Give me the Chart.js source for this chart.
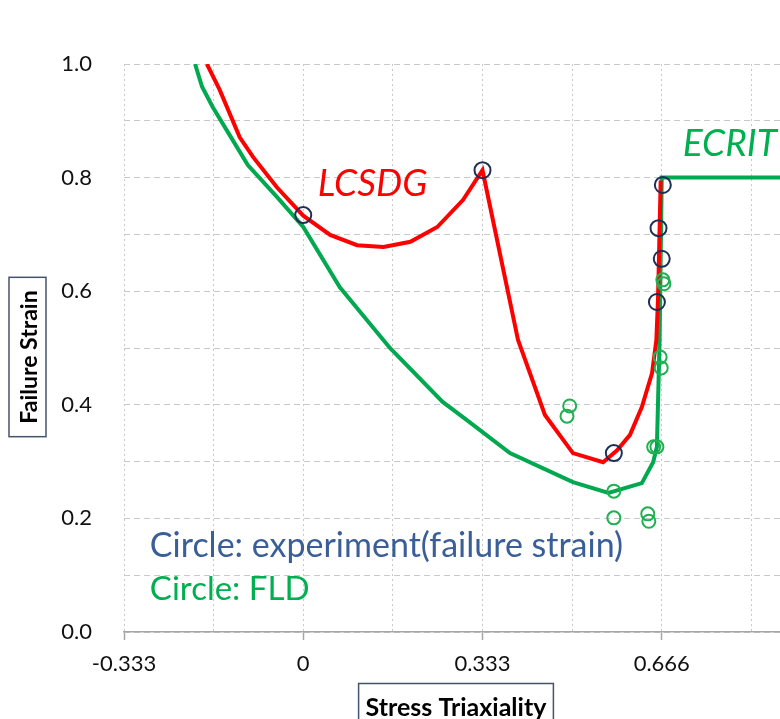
<!DOCTYPE html>
<html>
<head>
<meta charset="utf-8">
<script src="https://cdn.jsdelivr.net/npm/chart.js@4/dist/chart.umd.min.js"></script>
<style>
  html, body { margin: 0; padding: 0; background: #fff; overflow: hidden; }
  #wrap { width: 780px; height: 719px; overflow: hidden; }
  canvas { display: block; }
</style>
</head>
<body>
<div id="wrap"><canvas id="graphCanvas" width="860" height="719"></canvas></div>
<script>
// LCSDG curve (red)
var lcsdgX = [-0.179, -0.155, -0.118, -0.093, -0.049, 0.0, 0.050, 0.100, 0.149, 0.199, 0.249, 0.297, 0.333,
              0.399, 0.449, 0.501, 0.557, 0.583, 0.607, 0.629, 0.648, 0.656, 0.659, 0.661, 0.664];
var lcsdgY = [1.0, 0.954, 0.871, 0.836, 0.783, 0.733, 0.699, 0.681, 0.678, 0.687, 0.713, 0.761, 0.813,
              0.514, 0.382, 0.315, 0.299, 0.320, 0.347, 0.396, 0.456, 0.514, 0.585, 0.667, 0.795];

// ECRIT curve (green)
var ecritX = [-0.201, -0.188, -0.168, -0.131, -0.103, -0.049, 0.0, 0.068, 0.161, 0.259, 0.304, 0.384,
              0.501, 0.567, 0.629, 0.650, 0.657, 0.662, 0.666, 0.999];
var ecritY = [1.0, 0.960, 0.924, 0.866, 0.822, 0.766, 0.713, 0.607, 0.500, 0.405, 0.373, 0.315,
              0.264, 0.245, 0.262, 0.299, 0.326, 0.514, 0.800, 0.800];

// experiment (failure strain) circles
var expX = [0.0, 0.333, 0.668, 0.660, 0.666, 0.657, 0.577];
var expY = [0.734, 0.813, 0.787, 0.711, 0.657, 0.581, 0.315];

// FLD circles
var fldX = [0.495, 0.490, 0.668, 0.670, 0.663, 0.665, 0.651, 0.657, 0.577, 0.577, 0.640, 0.642];
var fldY = [0.398, 0.380, 0.620, 0.613, 0.484, 0.465, 0.326, 0.326, 0.248, 0.201, 0.208, 0.195];

// axes
var xGridValues = [-0.333, -0.1665, 0, 0.1665, 0.333, 0.4995, 0.666, 0.8325, 0.999];
var xTickValues = [-0.333, 0, 0.333, 0.666];
var xTickLabels = ['-0.333', '0', '0.333', '0.666'];
var yTickValues = [0, 0.2, 0.4, 0.6, 0.8, 1.0];
var yTickLabels = ['0.0', '0.2', '0.4', '0.6', '0.8', '1.0'];

// text notes on the plot (data coords)
var noteTexts = ['LCSDG', 'ECRIT', 'Circle: experiment(failure strain)', 'Circle: FLD'];
var noteX = [0.027, 0.705, -0.285, -0.285];
var noteY = [0.768, 0.838, 0.132, 0.056];
var noteStyle = [
    {font: 'italic 37px Lato', color: '#ff0000'},
    {font: 'italic 37px Lato', color: '#00b050'},
    {font: '34px Lato', color: '#3a5f98'},
    {font: '33px Lato', color: '#00b050'}
];

var xTitle = 'Stress Triaxiality';
var yTitle = 'Failure Strain';

function toPoints(xs, ys) {
    var pts = [];
    for (var i in xs) {
        pts.push({x: xs[i], y: ys[i]});
    }
    return pts;
}

function labelFor(value, values, labels) {
    for (var i = 0; i < values.length; i++) {
        if (Math.abs(values[i] - value) < 1e-6) {
            return labels[i];
        }
    }
    return '';
}

var notesPlugin = {
    id: 'notes',
    afterDraw: function(chart) {
        var ctx = chart.ctx;
        var xs = chart.scales.x, ys = chart.scales.y;
        var area = chart.chartArea;
        ctx.save();
        ctx.textBaseline = 'alphabetic';
        ctx.textAlign = 'left';
        for (var i = 0; i < noteTexts.length; i++) {
            ctx.font = noteStyle[i].font;
            ctx.fillStyle = noteStyle[i].color;
            ctx.fillText(noteTexts[i], xs.getPixelForValue(noteX[i]), ys.getPixelForValue(noteY[i]));
        }

        // boxed axis titles
        ctx.fillStyle = '#000';
        ctx.strokeStyle = '#44546a';
        ctx.lineWidth = 1.5;
        ctx.textAlign = 'center';

        ctx.font = 'bold 25px Lato';
        var w = ctx.measureText(xTitle).width;
        var cx = area.left + 332;
        ctx.fillText(xTitle, cx, area.bottom + 84);
        ctx.strokeRect(cx - w / 2 - 7, area.bottom + 51.5, w + 14, 60);

        ctx.font = 'bold 23px Lato';
        var h = ctx.measureText(yTitle).width;
        var cy = area.top + 293;
        ctx.translate(27.5, cy);
        ctx.rotate(-Math.PI / 2);
        ctx.fillText(yTitle, 0, 9);
        ctx.strokeRect(-h / 2 - 13, -18.5, h + 26, 37);
        ctx.restore();
    }
};

Chart.defaults.font.family = 'Lato';
Chart.defaults.color = '#111';

new Chart(document.getElementById('graphCanvas'), {
    type: 'scatter',
    data: {
        datasets: [
            {
                label: 'Experiment',
                data: toPoints(expX, expY),
                pointStyle: 'circle',
                pointRadius: 8,
                pointBorderWidth: 2,
                borderColor: '#1f2e55',
                backgroundColor: 'rgba(0,0,0,0)'
            },
            {
                label: 'FLD',
                data: toPoints(fldX, fldY),
                pointStyle: 'circle',
                pointRadius: 6.5,
                pointBorderWidth: 2,
                borderColor: '#1fb052',
                backgroundColor: 'rgba(0,0,0,0)'
            },
            {
                label: 'LCSDG',
                data: toPoints(lcsdgX, lcsdgY),
                showLine: true,
                pointRadius: 0,
                borderWidth: 4,
                borderColor: '#ff0000',
                backgroundColor: '#ff0000'
            },
            {
                label: 'ECRIT',
                data: toPoints(ecritX, ecritY),
                showLine: true,
                pointRadius: 0,
                borderWidth: 4,
                borderColor: '#00a84f',
                backgroundColor: '#00a84f'
            }
        ]
    },
    options: {
        responsive: false,
        animation: false,
        layout: { padding: { top: 64, right: 19, left: 0, bottom: 0 } },
        plugins: {
            legend: { display: false },
            tooltip: { enabled: false },
            title: { display: false }
        },
        scales: {
            x: {
                type: 'linear',
                min: -0.333,
                max: 0.999,
                afterBuildTicks: function(scale) {
                    scale.ticks = xGridValues.map(function(v) { return {value: v}; });
                },
                afterFit: function(scale) { scale.height = 87; },
                ticks: {
                    autoSkip: false,
                    maxRotation: 0,
                    padding: 11,
                    font: { size: 22 },
                    callback: function(value) {
                        return labelFor(value, xTickValues, xTickLabels);
                    }
                },
                grid: {
                    color: '#c8c8c8',
                    tickLength: 8,
                    tickColor: function(context) {
                        var v = context.tick ? context.tick.value : null;
                        return labelFor(v, xTickValues, xTickLabels) !== '' ? '#a6a6a6' : 'rgba(0,0,0,0)';
                    },
                    tickWidth: 1.5
                },
                border: { display: true, color: '#a6a6a6', width: 1.5, dash: [2, 3] }
            },
            y: {
                type: 'linear',
                min: 0,
                max: 1.0,
                afterFit: function(scale) { scale.width = 124; },
                ticks: {
                    stepSize: 0.1,
                    padding: 32,
                    font: { size: 22 },
                    callback: function(value) {
                        return labelFor(value, yTickValues, yTickLabels);
                    }
                },
                grid: { color: '#c8c8c8', drawTicks: false },
                border: { display: false, dash: [6, 4] }
            }
        }
    },
    plugins: [notesPlugin]
});
</script>
</body>
</html>
